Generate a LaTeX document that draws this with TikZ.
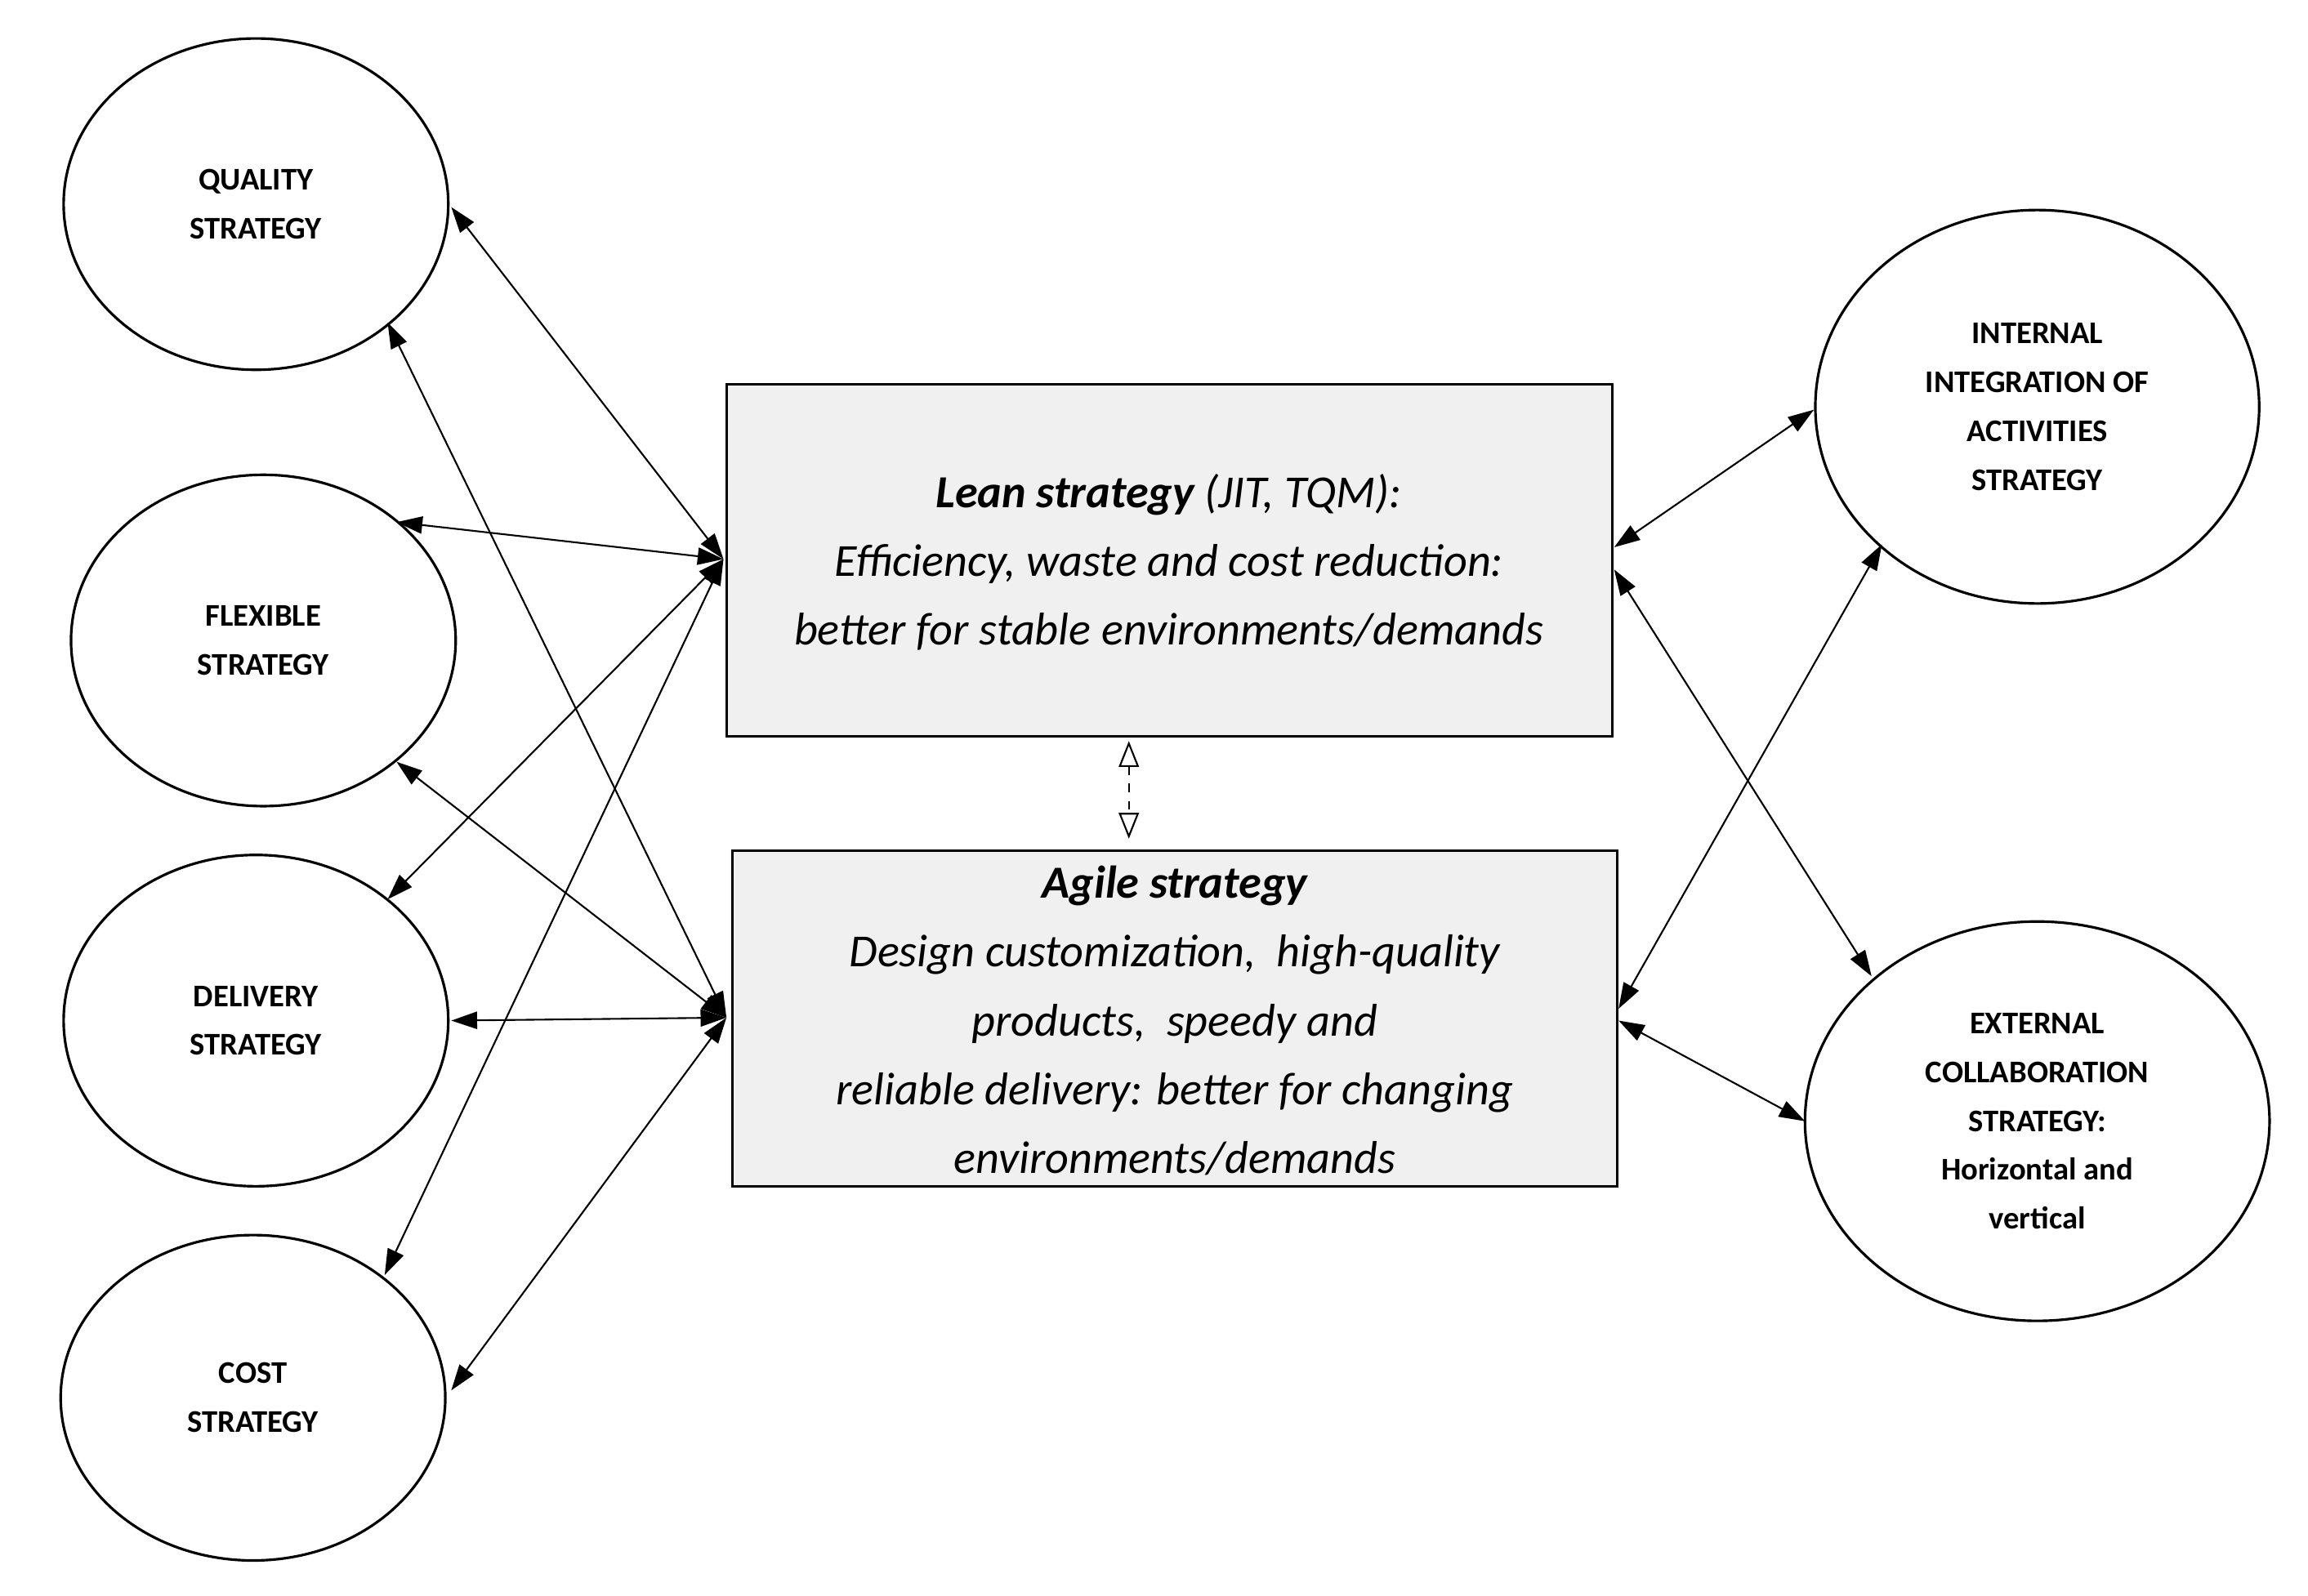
\documentclass[tikz,border=0pt]{standalone}
\usepackage{fontspec}
\setmainfont{Carlito}
\usetikzlibrary{arrows.meta}
\begin{document}
\begin{tikzpicture}[x=0.01811cm,y=-0.01811cm,
 etxt/.style={font=\bfseries\fontsize{11}{17}\selectfont,align=center},
 btxt/.style={font=\itshape\fontsize{16}{24}\selectfont,align=center},
 shp/.style={line width=0.9pt},
 con/.style={line width=0.6pt,{Triangle[length=9pt,width=6pt]}-{Triangle[length=9pt,width=6pt]}}]
\useasboundingbox (0,0) rectangle (1560,1079);
\draw[shp] (173,138) ellipse [x radius=130,y radius=112];
\node[etxt] (q) at (173,138) {QUALITY\\STRATEGY};
\draw[shp] (178,433) ellipse [x radius=130,y radius=112];
\node[etxt] (f) at (178,433) {FLEXIBLE\\STRATEGY};
\draw[shp] (173,690) ellipse [x radius=130,y radius=112];
\node[etxt] (d) at (173,690) {DELIVERY\\STRATEGY};
\draw[shp] (171,945) ellipse [x radius=130,y radius=110];
\node[etxt] (c) at (171,945) {COST\\STRATEGY};
\draw[shp] (1377,275) ellipse [x radius=150,y radius=133];
\node[etxt] (i) at (1377,275) {INTERNAL\\INTEGRATION OF\\ACTIVITIES\\STRATEGY};
\draw[shp] (1377,758) ellipse [x radius=157,y radius=135];
\node[etxt] (e) at (1377,758) {EXTERNAL\\COLLABORATION\\STRATEGY:\\Horizontal and\\vertical};
\draw[shp,fill=gray!12] (491,260) rectangle (1090,498);
\node[btxt] (lean) at (790,380) {\textbf{Lean strategy} (JIT, TQM):\\Efficiency, waste and cost reduction:\\better for stable environments/demands};
\draw[shp,fill=gray!12] (495,575) rectangle (1093,802);
\node[btxt] (agile) at (794,690) {\textbf{Agile strategy}\\Design customization,\ \ high-quality\\products,\ \ speedy and\\reliable delivery: better for changing\\environments/demands};
\coordinate (L) at (489,378); \coordinate (A) at (491,688);
\coordinate (LR) at (1091,370); \coordinate (LR2) at (1091,385);
\coordinate (AR) at (1094,682); \coordinate (AR2) at (1094,690);
\coordinate (q1) at (305,140); \coordinate (q2) at (262,218);
\coordinate (f1) at (268,353); \coordinate (f2) at (268,515);
\coordinate (d1) at (262,608); \coordinate (d2) at (305,690);
\coordinate (c1) at (260,862); \coordinate (c2) at (305,940);
\coordinate (i1) at (1226,277); \coordinate (i2) at (1272,368);
\coordinate (e1) at (1265,660); \coordinate (e2) at (1220,758);
\foreach \a/\b in {L/q1,L/f1,L/d1,L/c1,A/q2,A/f2,A/d2,A/c2,LR/i1,LR2/e1,AR/i2,AR2/e2}
  \draw[con] (\a) -- (\b);
\coordinate (m1) at (763,501); \coordinate (m2) at (763,567);
\draw[line width=0.6pt,dashed,{Triangle[open,length=9pt,width=7pt]}-{Triangle[open,length=9pt,width=7pt]}] (m1) -- (m2);
\end{tikzpicture}
\end{document}
